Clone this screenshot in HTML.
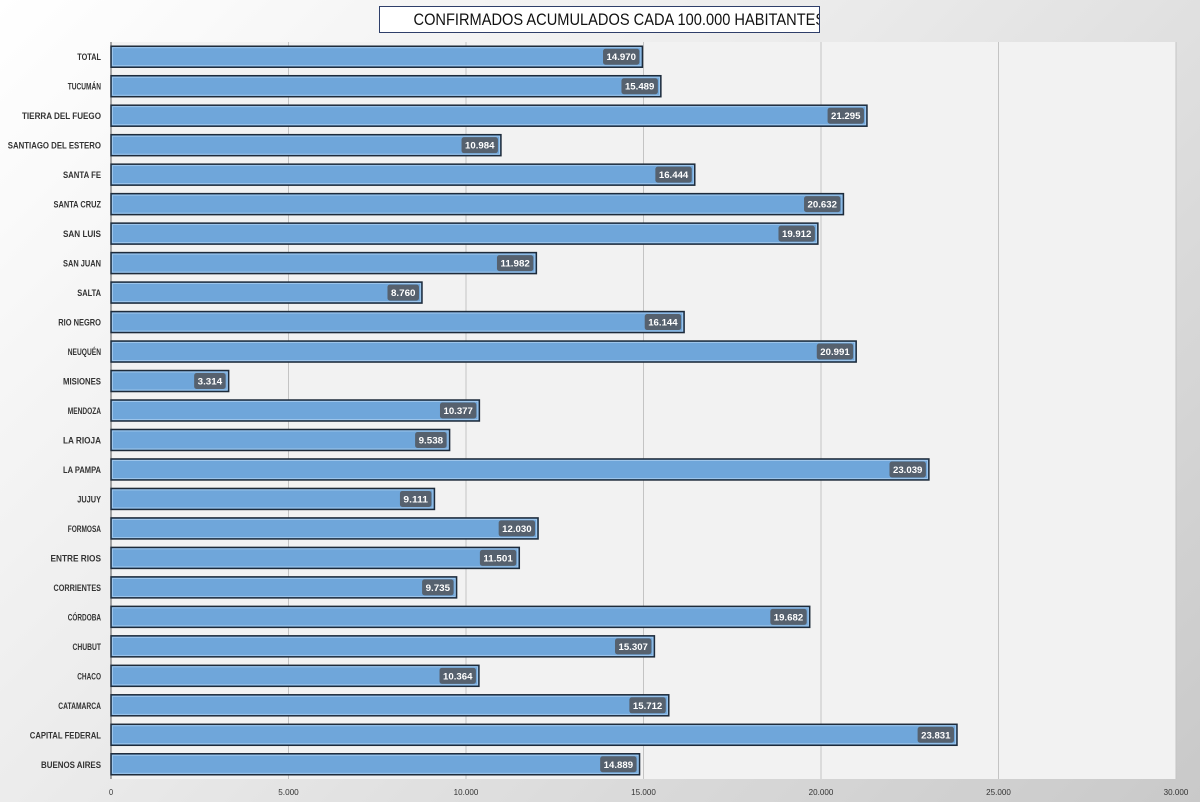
<!DOCTYPE html>
<html><head><meta charset="utf-8">
<style>
html,body{margin:0;padding:0;width:1200px;height:802px;overflow:hidden;}
body{background:linear-gradient(135deg,#ffffff 0%,#ececec 40%,#c9c9c9 100%);font-family:"Liberation Sans",sans-serif;}
#title{position:absolute;left:379px;top:6px;width:441px;height:27px;box-sizing:border-box;border:1px solid #2f3f6a;background:#fff;text-align:center;font-size:17px;line-height:25px;color:#111;white-space:nowrap;overflow:hidden;}
#title span{display:inline-block;transform:scaleX(0.86);transform-origin:center;}
svg{position:absolute;left:0;top:0;}
</style></head><body>
<div id="title"><span>CONFIRMADOS ACUMULADOS CADA 100.000 HABITANTES</span></div>
<svg id="chart" width="1200" height="802"></svg>
<script>
const categories=["TOTAL","TUCUMÁN","TIERRA  DEL FUEGO","SANTIAGO  DEL ESTERO","SANTA FE","SANTA CRUZ","SAN LUIS","SAN JUAN","SALTA","RIO NEGRO","NEUQUÉN","MISIONES","MENDOZA","LA RIOJA","LA PAMPA","JUJUY","FORMOSA","ENTRE  RIOS","CORRIENTES","CÓRDOBA","CHUBUT","CHACO","CATAMARCA","CAPITAL FEDERAL","BUENOS  AIRES"];
const values=[14970,15489,21295,10984,16444,20632,19912,11982,8760,16144,20991,3314,10377,9538,23039,9111,12030,11501,9735,19682,15307,10364,15712,23831,14889];
const ticks=[0,5000,10000,15000,20000,25000,30000];
const NS="http://www.w3.org/2000/svg";
const svg=document.getElementById('chart');
const X0=111,X1=1176,Y0=42,Y1=779,MAX=30000;
const x=v=>X0+(v/MAX)*(X1-X0);
const step=(Y1-Y0)/categories.length;
const y=i=>Y0+step*(i+0.5);
function mk(tag,attrs,parent){const e=document.createElementNS(NS,tag);for(const k in attrs)e.setAttribute(k,attrs[k]);(parent||svg).appendChild(e);return e;}
const fmt=v=>{const s=String(Math.round(v));return s.replace(/\B(?=(\d{3})+(?!\d))/g,'.');};
let bg=mk('rect',{x:X0,y:Y0,width:X1-X0,height:Y1-Y0,fill:'#f2f2f2'});


ticks.forEach(t=>{
  if(t>0){let g=mk('line',{x1:x(t),x2:x(t),y1:Y0,y2:Y1,stroke:'#c4c4c4','stroke-width':1});
  
  }
  const s=fmt(t);
  let tl=mk('text',{x:x(t),y:795,'text-anchor':'middle','font-size':8,fill:'#333',textLength:s.length*4.1,lengthAdjust:'spacingAndGlyphs'});
  tl.textContent=s;
  
  
});
let ax=mk('line',{x1:X0,x2:X0,y1:Y0,y2:Y1,stroke:'#555','stroke-width':1});


categories.forEach((c,i)=>{
  const cy=y(i),h=21,w=x(values[i])-X0;
  let cl=mk('text',{x:101,y:cy+3.5,'text-anchor':'end','font-size':9,fill:'#333','font-weight':'bold',textLength:c.replace(/  /g,' ').length*4.75+(c.includes('  ')?3:0),lengthAdjust:'spacingAndGlyphs'});
  cl.textContent=c;
  
  
  let b=mk('rect',{x:X0,y:cy-h/2,width:w,height:h,fill:'#6fa6da',stroke:'#1e2b3a','stroke-width':1.5});
  
  
  mk('rect',{x:X0+1.5,y:cy-h/2+1.5,width:Math.max(0,w-3),height:h-3,fill:'none',stroke:'#a9cdef','stroke-width':0.8});
  const txt=fmt(values[i]);const tw=txt.length*4.9;const lw=tw+7;
  let lb=mk('rect',{x:X0+w-lw-3,y:cy-8,width:lw,height:16,rx:2.5,fill:'#56616e'});
  
  
  let lt=mk('text',{x:X0+w-3-lw/2,y:cy+3.5,'text-anchor':'middle','font-size':9.5,fill:'#fff','font-weight':'bold',textLength:tw,lengthAdjust:'spacingAndGlyphs'});
  lt.textContent=txt;
  
  
});
</script>
</body></html>
